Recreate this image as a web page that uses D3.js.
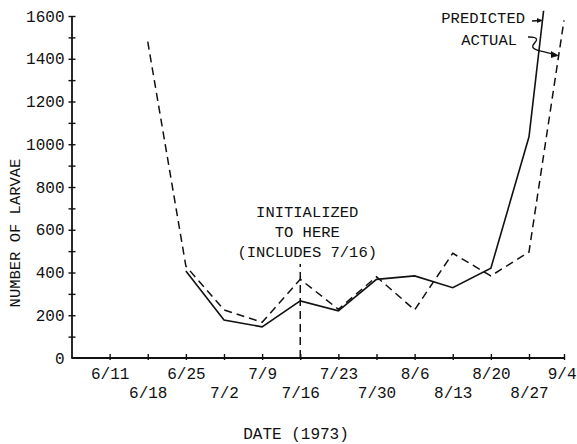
<!DOCTYPE html>
<html>
<head>
<meta charset="utf-8">
<script src="https://cdn.jsdelivr.net/npm/d3@7"></script>
<style>
  html, body { margin: 0; padding: 0; background: #fff; }
  svg { display: block; }
  text { font-family: "Liberation Mono", "DejaVu Sans Mono", monospace; fill: #111; }
</style>
</head>
<body>
<svg id="chart" width="577" height="444"></svg>
<script>
// Weekly sampling dates (1973)
const dates = ["6/11", "6/18", "6/25", "7/2", "7/9", "7/16", "7/23",
               "7/30", "8/6", "8/13", "8/20", "8/27", "9/4"];
// Larvae counts; null where a series has no value
const predicted = [null, null, 407, 178, 146, 267, 221, 368, 384, 329, 420, 1035, 2450];
const actual    = [null, 1480, 430, 225, 167, 368, 228, 380, 225, 490, 384, 496, 1580];
// Y-axis ticks (labels every 200, minor marks every 100)
const yTicks = d3.range(0, 1601, 100);
const yLabels = d3.range(0, 1601, 200);
// Model initialised through this date
const initIndex = 5;
const initTop = 440;

const svg = d3.select("#chart");
const ink = "#111";

// The date axis is evenly spaced by week, last interval slightly shorter
const x = d3.scaleLinear().domain([-1, 11, 12]).range([71.5, 529, 564]);
const y = d3.scaleLinear().domain([0, 1600]).range([358, 16]);

// Clip so the predicted curve stops at the top of the plot
svg.append("defs").append("clipPath").attr("id", "plotClip")
  .append("rect")
  .attr("x", x(-1)).attr("y", y(1625))
  .attr("width", 577 - x(-1)).attr("height", y(0) - y(1625) + 4);

// ---- Y axis ----
const yAxis = d3.axisLeft(y).tickValues(yTicks).tickSize(0).tickPadding(7)
  .tickFormat(d => (yLabels.includes(d) ? d : ""));
const gy = svg.append("g").attr("transform", `translate(${x(-1)},0)`).call(yAxis);
gy.select(".domain").attr("stroke", ink).attr("stroke-width", 1.8);
gy.selectAll(".tick line").remove();
gy.selectAll(".tick").append("line")
  .attr("x1", -3).attr("x2", 4).attr("stroke", ink).attr("stroke-width", 1.4)
  .filter(d => d === 0).remove();
gy.selectAll(".tick text").attr("font-size", 16).attr("fill", ink)
  .attr("font-family", "Liberation Mono, monospace");

// ---- X axis ----
const xAxis = d3.axisBottom(x).tickValues(d3.range(0, dates.length)).tickSize(0)
  .tickFormat(i => dates[i]);
const gx = svg.append("g").attr("transform", `translate(0,${y(0)})`).call(xAxis);
gx.select(".domain").attr("stroke", ink).attr("stroke-width", 1.8)
  .attr("d", `M${x(-1)},0H${x(12)}`);
gx.selectAll(".tick").append("line")
  .attr("y1", -4).attr("y2", 2).attr("stroke", ink).attr("stroke-width", 1.4);
gx.selectAll(".tick text")
  .attr("font-size", 16).attr("fill", ink)
  .attr("font-family", "Liberation Mono, monospace")
  .attr("y", i => (i % 2 === 0 ? 15 : 34))
  .attr("dy", "0.35em");
// keep the last date label inside the frame
gx.selectAll(".tick text").filter(i => i === dates.length - 1)
  .attr("text-anchor", "end").attr("x", 12);

// ---- Axis titles ----
svg.append("text")
  .attr("transform", `translate(15,${(y(0) + y(1600)) / 2 + 46}) rotate(-90)`)
  .attr("text-anchor", "middle").attr("dy", "0.35em")
  .attr("font-size", 15.5)
  .text("NUMBER OF LARVAE");

svg.append("text")
  .attr("x", 296).attr("y", 433).attr("dy", "0.35em")
  .attr("text-anchor", "middle").attr("font-size", 16)
  .text("DATE (1973)");

// ---- Series lines ----
const plot = svg.append("g").attr("clip-path", "url(#plotClip)");
const lineGen = d3.line()
  .defined(d => d[1] != null)
  .x(d => x(d[0])).y(d => y(d[1]));

plot.append("path")
  .datum(actual.map((v, i) => [i, v]))
  .attr("fill", "none").attr("stroke", ink).attr("stroke-width", 1.5)
  .attr("stroke-dasharray", "8,5")
  .attr("d", lineGen);

plot.append("path")
  .datum(predicted.map((v, i) => [i, v]))
  .attr("fill", "none").attr("stroke", ink).attr("stroke-width", 1.6)
  .attr("d", lineGen);

// ---- Initialisation marker ----
svg.append("line")
  .attr("x1", x(initIndex)).attr("x2", x(initIndex))
  .attr("y1", y(0)).attr("y2", y(initTop))
  .attr("stroke", ink).attr("stroke-width", 1.5)
  .attr("stroke-dasharray", "8,5");

const note = svg.append("text")
  .attr("text-anchor", "middle").attr("font-size", 15.5);
["INITIALIZED", "TO HERE", "(INCLUDES 7/16)"].forEach((t, k) => {
  note.append("tspan")
    .attr("x", x(initIndex) + 7)
    .attr("y", y(initTop) - 52 + k * 20)
    .attr("dy", "0.35em")
    .text(t);
});

// ---- Series labels with pointers ----
const px = x(12) - 39;
svg.append("text")
  .attr("x", px).attr("y", 18).attr("dy", "0.35em")
  .attr("text-anchor", "end").attr("font-size", 15.5)
  .text("PREDICTED");
svg.append("text")
  .attr("x", px - 8).attr("y", 40).attr("dy", "0.35em")
  .attr("text-anchor", "end").attr("font-size", 15.5)
  .text("ACTUAL");

// straight pointer to the predicted line
svg.append("line")
  .attr("x1", px + 7).attr("y1", 21).attr("x2", px + 15).attr("y2", 20.5)
  .attr("stroke", ink).attr("stroke-width", 1.3);
svg.append("path")
  .attr("d", d3.line()([[px + 12, 18.5], [px + 17, 20.5], [px + 12, 22.5]]))
  .attr("fill", ink).attr("stroke", ink).attr("stroke-width", 0.8);

// curly pointer to the actual line
const squiggle = d3.line().curve(d3.curveBasis)([
  [px + 3, 37], [px + 10, 37], [px + 13, 40], [px + 6, 46],
  [px + 10, 50], [px + 20, 52], [px + 31, 55]
]);
svg.append("path").attr("d", squiggle)
  .attr("fill", "none").attr("stroke", ink).attr("stroke-width", 1.3);
svg.append("path")
  .attr("d", d3.line()([[px + 26, 51.5], [px + 33, 55.5], [px + 26, 57.5]]))
  .attr("fill", ink).attr("stroke", ink).attr("stroke-width", 0.8);
</script>
</body>
</html>
